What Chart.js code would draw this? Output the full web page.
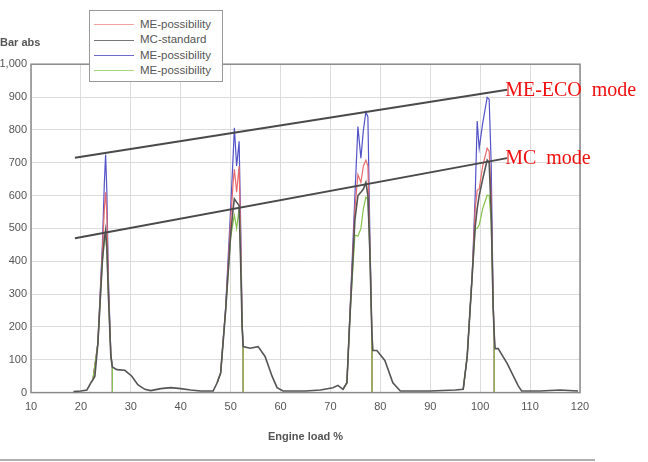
<!DOCTYPE html>
<html>
<head>
<meta charset="utf-8">
<script src="https://cdn.jsdelivr.net/npm/chart.js@4"></script>
<style>
  body { margin: 0; background: #fff; }
  #wrap { position: relative; width: 648px; height: 462px; }
  #legend {
    position: absolute; left: 89px; top: 10px; width: 132px; height: 70px;
    border: 1px solid #999; background: #fff;
    font: 11.5px "Liberation Sans", Arial, sans-serif; color: #555;
  }
  #legend div { height: 15.3px; line-height: 15.3px; white-space: nowrap; }
  #legend div:first-child { margin-top: 6px; }
  #legend span { display: inline-block; width: 40px; height: 0; border-top: 1.5px solid; vertical-align: middle; margin: 0 6px 0 4px; }
</style>
</head>
<body>
<div id="wrap">
  <canvas id="chart" width="648" height="462"></canvas>
  <div id="legend"></div>
</div>
<script>
// Engine load (%) vs pressure (bar abs)
const mcLoad = [18.5, 20, 21.2, 22.0, 22.4, 22.8, 23.4, 24.3, 24.7, 24.95, 25.2, 25.5, 26.0, 26.3, 27.2, 28.8, 30.2, 31.4, 32.8, 34,
  36, 38, 40, 42, 44, 46.5, 47.3, 48.0, 49.0, 50.0, 50.5, 50.75, 51.2, 51.7, 52.0, 52.3, 52.5, 53.9, 55.5, 56.9,
  58.3, 59.3, 60.5, 65, 68, 70.5, 71.5, 72.5, 73.3, 73.9, 74.9, 75.5, 76.1, 76.6, 77.1, 77.5, 77.9, 78.3, 78.5, 79.3,
  80.9, 82.5, 84, 90, 95, 96.6, 97.4, 98.4, 99.0, 99.4, 99.8, 100.5, 101.4, 101.8, 102.2, 102.6, 102.8, 103.0, 103.6, 105.4,
  107.6, 108.3, 112, 116, 119.6];
const mcStandard = [3, 5, 8, 30, 39, 50, 150, 400, 470, 495, 440, 300, 110, 78, 70, 68, 50, 24, 10, 6,
  12, 15, 12, 8, 5, 5, 30, 60, 250, 480, 560, 590, 580, 570, 400, 200, 140, 135, 140, 110,
  50, 15, 5, 5, 8, 15, 22, 10, 30, 229, 527, 600, 610, 620, 640, 600, 426, 180, 128, 128,
  98, 30, 5, 5, 8, 10, 110, 357, 506, 560, 600, 650, 708, 700, 550, 259, 180, 134, 134, 89,
  21, 5, 5, 8, 5];

// ME curves only exist around the four load peaks (null = gap)
const peakLoad = [22.4, 23.4, 24.3, 24.7, 24.95, 25.2, 25.5, 26.0, 26.3, 26.31, 30,
  47.3, 48.0, 49.0, 50.0, 50.5, 50.75, 51.2, 51.7, 52.0, 52.3, 52.5, 52.51, 60,
  72.5, 73.3, 73.9, 74.9, 75.5, 76.1, 76.6, 77.1, 77.5, 77.9, 78.3, 78.31, 90,
  96.6, 97.4, 98.4, 99.0, 99.4, 99.8, 100.5, 101.4, 101.8, 102.2, 102.6, 102.8, 102.81];
const meRed = [39, 150, 430, 560, 610, 540, 330, 115, 78, 0, null,
  30, 60, 255, 520, 640, 680, 610, 690, 480, 210, 140, 0, null,
  10, 30, 235, 560, 664, 640, 690, 708, 690, 450, 180, 0, null,
  10, 110, 358, 560, 616, 620, 690, 744, 735, 600, 270, 180, 0];
const meBlue = [39, 150, 450, 640, 725, 610, 350, 120, 78, 0, null,
  30, 60, 260, 560, 720, 806, 690, 765, 520, 220, 140, 0, null,
  10, 30, 240, 600, 810, 714, 800, 854, 840, 480, 180, 0, null,
  10, 110, 360, 600, 827, 744, 820, 899, 893, 700, 280, 180, 0];
const meGreen = [39, 150, 400, 460, 480, 430, 300, 110, 78, 0, null,
  30, 60, 250, 470, 520, 540, 500, 560, 420, 200, 140, 0, null,
  10, 30, 229, 480, 476, 500, 560, 595, 590, 430, 180, 0, null,
  10, 110, 357, 500, 500, 510, 560, 601, 600, 520, 259, 180, 0];

// hand-drawn trend lines
const trendLoad = [18.8, 105.4];
const ecoTrend = [715, 922];
const mcTrend = [470, 714];

const seriesNames = ['ME-possibility', 'MC-standard', 'ME-possibility', 'ME-possibility'];
const seriesColors = ['#e86a6a', '#555555', '#5353c8', '#86c34a'];
const legendColors = ['#f2a0a0', '#777777', '#6c6cd0', '#a8d878'];

const pts = (xs, ys) => xs.map((x, i) => ({ x: x, y: ys[i] }));

// legend box (sits over the top border like in the picture)
document.getElementById('legend').innerHTML = seriesNames
  .map((n, i) => `<div><span style="border-color:${legendColors[i]}"></span>${n}</div>`).join('');

const frame = {
  id: 'frame',
  beforeDatasetsDraw(chart) {
    const { ctx, chartArea: a } = chart;
    ctx.save();
    ctx.strokeStyle = '#8a8a8a';
    ctx.lineWidth = 1.5;
    ctx.strokeRect(a.left, a.top, a.right - a.left, a.bottom - a.top);
    ctx.restore();
  },
  afterDraw(chart) {
    const { ctx, scales } = chart;
    const x = scales.x.getPixelForValue(trendLoad[1]);
    ctx.save();
    ctx.font = '20px "Liberation Serif", "Times New Roman", serif';
    ctx.fillStyle = '#f01010';
    ctx.textBaseline = 'middle';
    ctx.fillText('ME-ECO  mode', x - 2, scales.y.getPixelForValue(ecoTrend[1]) + 1);
    ctx.fillText('MC  mode', x - 2, scales.y.getPixelForValue(mcTrend[1]) + 1);
    // scan edge at the bottom
    ctx.strokeStyle = '#b0b0b0';
    ctx.lineWidth = 2;
    ctx.beginPath();
    ctx.moveTo(0, 460);
    ctx.lineTo(595, 460);
    ctx.stroke();
    ctx.restore();
  }
};

const line = (label, data, color, width, order) => ({
  label, data, borderColor: color, backgroundColor: color, borderWidth: width,
  pointRadius: 0, tension: 0, spanGaps: false, order
});

new Chart(document.getElementById('chart'), {
  type: 'line',
  data: {
    datasets: [
      line(seriesNames[0], pts(peakLoad, meRed), seriesColors[0], 1.2, 3),
      line(seriesNames[1], pts(mcLoad, mcStandard), seriesColors[1], 1.6, 1),
      line(seriesNames[2], pts(peakLoad, meBlue), seriesColors[2], 1.2, 4),
      line(seriesNames[3], pts(peakLoad, meGreen), seriesColors[3], 1.2, 2),
      line('ME-ECO mode', pts(trendLoad, ecoTrend), '#4a4a4a', 2, 0),
      line('MC mode', pts(trendLoad, mcTrend), '#4a4a4a', 2, 0)
    ]
  },
  options: {
    responsive: false,
    animation: false,
    layout: { padding: { left: 0, right: 68, top: 0, bottom: 18 } },
    plugins: {
      legend: { display: false },
      tooltip: { enabled: false },
      title: {
        display: true, text: 'Bar abs', align: 'start', color: '#555',
        font: { family: '"Liberation Sans", Arial, sans-serif', size: 11, weight: 'bold' },
        padding: { top: 36, bottom: 15 }
      }
    },
    scales: {
      x: {
        type: 'linear', min: 10, max: 120,
        ticks: { stepSize: 10, padding: 8, color: '#555', font: { family: '"Liberation Sans", Arial, sans-serif', size: 11 } },
        grid: { color: '#dcdcdc', drawTicks: false },
        border: { display: false },
        title: {
          display: true, text: 'Engine load %', color: '#555',
          font: { family: '"Liberation Sans", Arial, sans-serif', size: 11, weight: 'bold' },
          padding: { top: 9, bottom: 0 }
        }
      },
      y: {
        min: 0, max: 1000,
        ticks: { stepSize: 100, padding: 4, color: '#555', font: { family: '"Liberation Sans", Arial, sans-serif', size: 11 } },
        grid: { color: '#dcdcdc', drawTicks: false },
        border: { display: false },
        afterFit(scale) { scale.width = 31; }
      }
    }
  },
  plugins: [frame]
});
</script>
</body>
</html>
